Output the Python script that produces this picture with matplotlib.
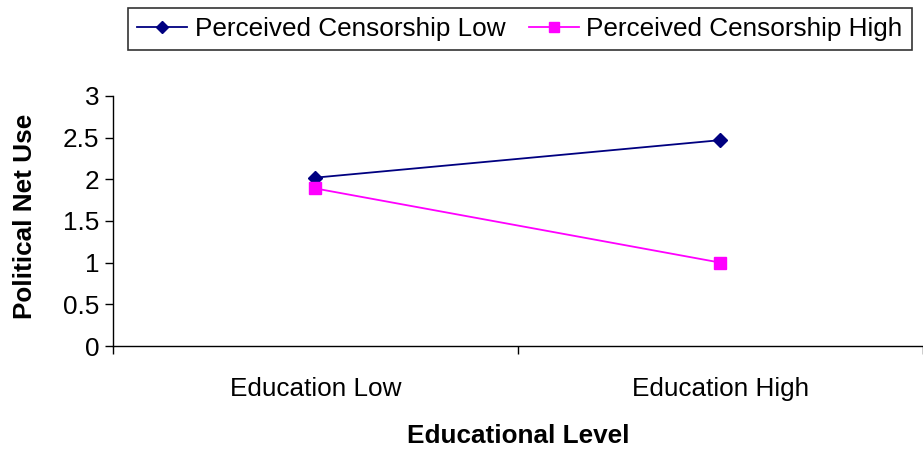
import matplotlib
matplotlib.use("Agg")
import matplotlib.pyplot as plt
import numpy as np

plt.rcParams['font.family'] = ['Liberation Sans', 'DejaVu Sans']

categories = ["Education Low", "Education High"]
censorship_low = [2.02, 2.47]
censorship_high = [1.89, 1.0]
series_names = ["Perceived Censorship Low", "Perceived Censorship High"]
y_ticks = [0, 0.5, 1, 1.5, 2, 2.5, 3]

FS = 18.8

fig = plt.figure(figsize=(9.23, 4.53), dpi=100)
ax = fig.add_axes([0.1224, 0.2362, 0.8776, 0.552])

x = np.arange(len(categories))
ax.plot(x, censorship_low, color="#000080", lw=1.3, marker="D", ms=7.5,
        mfc="#000080", mec="#000080", label=series_names[0])
ax.plot(x, censorship_high, color="#FF00FF", lw=1.3, marker="s", ms=8.5,
        mfc="#FF00FF", mec="#FF00FF", label=series_names[1])

ax.set_xlim(-0.5, len(categories) - 0.5)
ax.set_ylim(0, 3)
ax.set_yticks(y_ticks)
ax.set_yticklabels([f"{v:g}" for v in y_ticks])

# category boundaries carry the tick marks, labels sit at category centres
ax.set_xticks(np.arange(-0.5, len(categories)), minor=False)
ax.set_xticklabels([])
ax.set_xticks(x, minor=True)
ax.set_xticklabels(categories, minor=True)
ax.tick_params(axis="x", which="minor", length=0, pad=22, labelsize=FS)
ax.tick_params(axis="x", which="major", length=6, width=1, direction="out")
ax.tick_params(axis="y", length=6, width=1, direction="out", labelsize=FS, pad=4)

for side in ("top", "right"):
    ax.spines[side].set_visible(False)
for side in ("left", "bottom"):
    ax.spines[side].set_linewidth(1)
    ax.spines[side].set_color("black")

ax.set_ylabel("Political Net Use", fontsize=FS, fontweight="bold")
ax.yaxis.set_label_coords(-0.094, 0.52)
ax.set_xlabel("Educational Level", fontsize=FS, fontweight="bold", labelpad=17)

leg = fig.legend(loc="upper center", bbox_to_anchor=(0.5634, 0.982), ncol=2,
                 fontsize=FS, frameon=True, fancybox=False, edgecolor="black",
                 handlelength=1.9, handletextpad=0.3, columnspacing=0.9,
                 borderpad=0.35, borderaxespad=0, markerscale=0.8)
leg.get_frame().set_linewidth(1.2)

fig.savefig("out.png", dpi=100)
